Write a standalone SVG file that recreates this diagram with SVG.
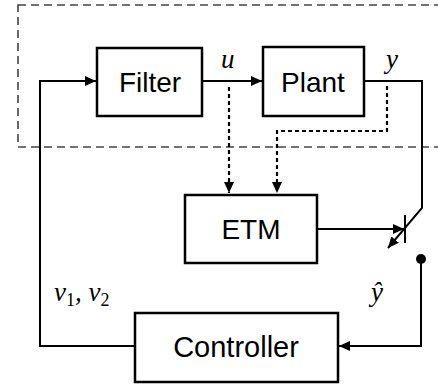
<svg xmlns="http://www.w3.org/2000/svg" width="438" height="389" viewBox="0 0 438 389">
<style>
.box{fill:#fff;stroke:#000;stroke-width:2.5}
.lbl{font-family:"Liberation Sans",Arial,sans-serif;font-size:28px;fill:#000;text-anchor:middle}
.math{font-family:"Liberation Serif","Times New Roman",serif;font-style:italic;font-size:27px;fill:#000}
.w{fill:none;stroke:#000;stroke-width:2}
.d{fill:none;stroke:#000;stroke-width:2.2;stroke-dasharray:4,3}
</style>
<defs>
<marker id="ah" markerWidth="11" markerHeight="10" refX="11" refY="5" orient="auto" markerUnits="userSpaceOnUse">
<path d="M0,0 L11,5 L0,10 Z" fill="#000"/>
</marker>
</defs>
<rect x="18" y="5" width="440" height="142" fill="none" stroke="#444" stroke-width="1.6" stroke-dasharray="8,5"/>
<g id="connectors">
<path class="w" d="M135,346 H40 V81 H96" marker-end="url(#ah)"/>
<path class="w" d="M202,81 H262" marker-end="url(#ah)"/>
<path class="w" d="M364,81 H422 V208 L388,248" marker-end="url(#ah)"/>
<line class="w" x1="405" y1="215" x2="405" y2="243"/>
<path class="d" d="M229,87 V193" marker-end="url(#ah)"/>
<path class="d" d="M387,86 V131 H277 V193" marker-end="url(#ah)"/>
<path class="w" d="M317,229 H404" marker-end="url(#ah)"/>
<circle cx="421" cy="259" r="5" fill="#000"/>
<path class="w" d="M421,259 V346 H339" marker-end="url(#ah)"/>
</g>
<g id="filter"><rect class="box" x="97" y="48" width="105" height="68"/><text class="lbl" x="150" y="92">Filter</text></g>
<g id="plant"><rect class="box" x="263" y="47" width="101" height="69"/><text class="lbl" x="313" y="92">Plant</text></g>
<g id="etm"><rect class="box" x="185" y="195" width="132" height="68"/><text class="lbl" x="251" y="239">ETM</text></g>
<g id="controller"><rect class="box" x="135" y="313" width="203" height="69"/><text class="lbl" x="236" y="357" style="font-size:29px">Controller</text></g>
<text class="math" x="221" y="68">u</text>
<text class="math" x="386" y="68">y</text>
<text class="math" x="54" y="301">v<tspan font-size="18" font-style="normal" dy="5">1</tspan><tspan dy="-5">, v</tspan><tspan font-size="18" font-style="normal" dy="5">2</tspan></text>
<text class="math" x="371" y="301">ŷ</text>
</svg>
